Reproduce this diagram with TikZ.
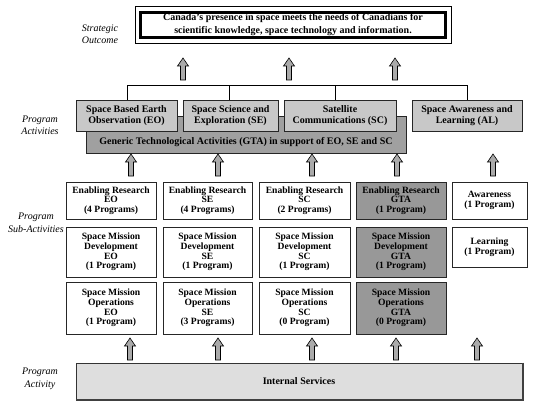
\documentclass[tikz,border=0pt]{standalone}
\usepackage{fontspec}
\setmainfont{Liberation Serif}
\definecolor{actgray}{RGB}{200,200,200}
\definecolor{gtagray}{RGB}{160,160,160}
\definecolor{subgta}{RGB}{152,152,152}
\definecolor{intgray}{RGB}{222,222,222}
\definecolor{arrgray}{RGB}{170,170,170}
\tikzset{
  box/.style={draw=black!85, line width=0.8pt, inner sep=0pt, align=center,
    font=\bfseries\fontsize{9.6}{9.7}\selectfont},
  actbox/.style={box, fill=actgray, minimum height=31pt,
    font=\bfseries\fontsize{10}{11}\selectfont},
  subbox/.style={box, fill=white},
  gtabox/.style={box, fill=subgta},
  lab/.style={align=center, font=\itshape\fontsize{10}{12.5}\selectfont},
  uparr/.pic={\draw[fill=arrgray, line width=0.6pt] (-2.5,0) -- (-2.5,-14) -- (-5.5,-14)
    -- (0,-22) -- (5.5,-14) -- (2.5,-14) -- (2.5,0) -- cycle;}
}
\begin{document}
\begin{tikzpicture}[x=1pt,y=-1pt]
\useasboundingbox (0,0) rectangle (537,406);
% strategic outcome
\node[box, draw=black, line width=2.4pt, minimum width=305pt, minimum height=25pt,
  font=\bfseries\fontsize{10}{13}\selectfont] (outcome) at (293,25)
  {Canada's presence in space meets the needs of Canadians for\\ scientific knowledge, space technology and information.};
\draw[line width=0.6pt] ([shift={(-4.5pt,4.5pt)}]outcome.north west) rectangle ([shift={(4.5pt,-4.5pt)}]outcome.south east);
\node[lab] (lso) at (100,34.5) {Strategic\\ Outcome};
\foreach \x in {183,289,395} \pic at (\x,80) {uparr};
% program activities
\node[lab] (lpa) at (40,125.5) {Program\\ Activities};
\node[box, fill=gtagray, minimum width=320pt, minimum height=37pt] (gta) at (246,134.5) {};
\node[font=\bfseries\fontsize{10}{11}\selectfont] (gtatext) at (246,142) {Generic Technological Activities (GTA) in support of EO, SE and SC};
\node[actbox, minimum width=101pt] (eo) at (126.5,115.5) {Space Based Earth\\ Observation (EO)};
\node[actbox, minimum width=95pt] (se) at (230.5,115.5) {Space Science and\\ Exploration (SE)};
\node[actbox, minimum width=112pt] (sc) at (340,115.5) {Satellite\\ Communications (SC)};
\node[actbox, minimum width=110pt] (al) at (467,115.5) {Space Awareness and\\ Learning (AL)};
\coordinate (bus) at (0,85);
\draw[line width=0.7pt] ([xshift=0.5pt]eo.north) -- ([xshift=0.5pt]eo.north |- bus) -| (al.north);
\draw[line width=0.7pt] ([xshift=-1.5pt]se.north) -- ([xshift=-1.5pt]se.north |- bus);
\draw[line width=0.7pt] ([xshift=-5pt]sc.north) -- ([xshift=-5pt]sc.north |- bus);
\foreach \x in {131,218,312,397,493} \pic at (\x,176) {uparr};
% program sub-activities
\node[lab] (lpsa) at (36,223) {Program\\ Sub-Activities};
\node[subbox, minimum width=90pt, minimum height=37pt] (ereo) at (111,200.5) {Enabling Research\\ EO\\ (4 Programs)};
\node[subbox, minimum width=89pt, minimum height=37pt] (erse) at (207.5,200.5) {Enabling Research\\ SE\\ (4 Programs)};
\node[subbox, minimum width=91pt, minimum height=37pt] (ersc) at (304.5,200.5) {Enabling Research\\ SC\\ (2 Programs)};
\node[gtabox, minimum width=90pt, minimum height=37pt] (ergta) at (401,200.5) {Enabling Research\\ GTA\\ (1 Program)};
\node[subbox, minimum width=75pt, minimum height=37pt] (aw) at (489.5,200.5) {Awareness\\ (1 Program)};
\node[subbox, minimum width=90pt, minimum height=50pt] (smdeo) at (111,252) {Space Mission\\ Development\\ EO\\ (1 Program)};
\node[subbox, minimum width=89pt, minimum height=50pt] (smdse) at (207.5,252) {Space Mission\\ Development\\ SE\\ (1 Program)};
\node[subbox, minimum width=91pt, minimum height=50pt] (smdsc) at (304.5,252) {Space Mission\\ Development\\ SC\\ (1 Program)};
\node[gtabox, minimum width=90pt, minimum height=50pt] (smdgta) at (401,252) {Space Mission\\ Development\\ GTA\\ (1 Program)};
\node[subbox, minimum width=75pt, minimum height=40pt] (learn) at (489.5,247) {Learning\\ (1 Program)};
\node[subbox, minimum width=90pt, minimum height=52pt] (smoeo) at (111,308) {Space Mission\\ Operations\\ EO\\ (1 Program)};
\node[subbox, minimum width=89pt, minimum height=52pt] (smose) at (207.5,308) {Space Mission\\ Operations\\ SE\\ (3 Programs)};
\node[subbox, minimum width=91pt, minimum height=52pt] (smosc) at (304.5,308) {Space Mission\\ Operations\\ SC\\ (0 Program)};
\node[gtabox, minimum width=90pt, minimum height=52pt] (smogta) at (401,308) {Space Mission\\ Operations\\ GTA\\ (0 Program)};
\foreach \x in {130,218,312,396,477} \pic at (\x,360) {uparr};
% internal services
\node[lab] (lpact) at (40,379) {Program\\ Activity};
\node[box, fill=intgray, draw=black!80, line width=1pt, minimum width=446pt, minimum height=36pt,
  font=\bfseries\fontsize{10}{11}\selectfont] (internal) at (299,381) {Internal Services};
\draw[line width=1.6pt, black!75] ([xshift=0.3pt]internal.north east) -- ([shift={(0.3pt,-0.3pt)}]internal.south east) -- ([yshift=-0.3pt]internal.south west);
\end{tikzpicture}
\end{document}
